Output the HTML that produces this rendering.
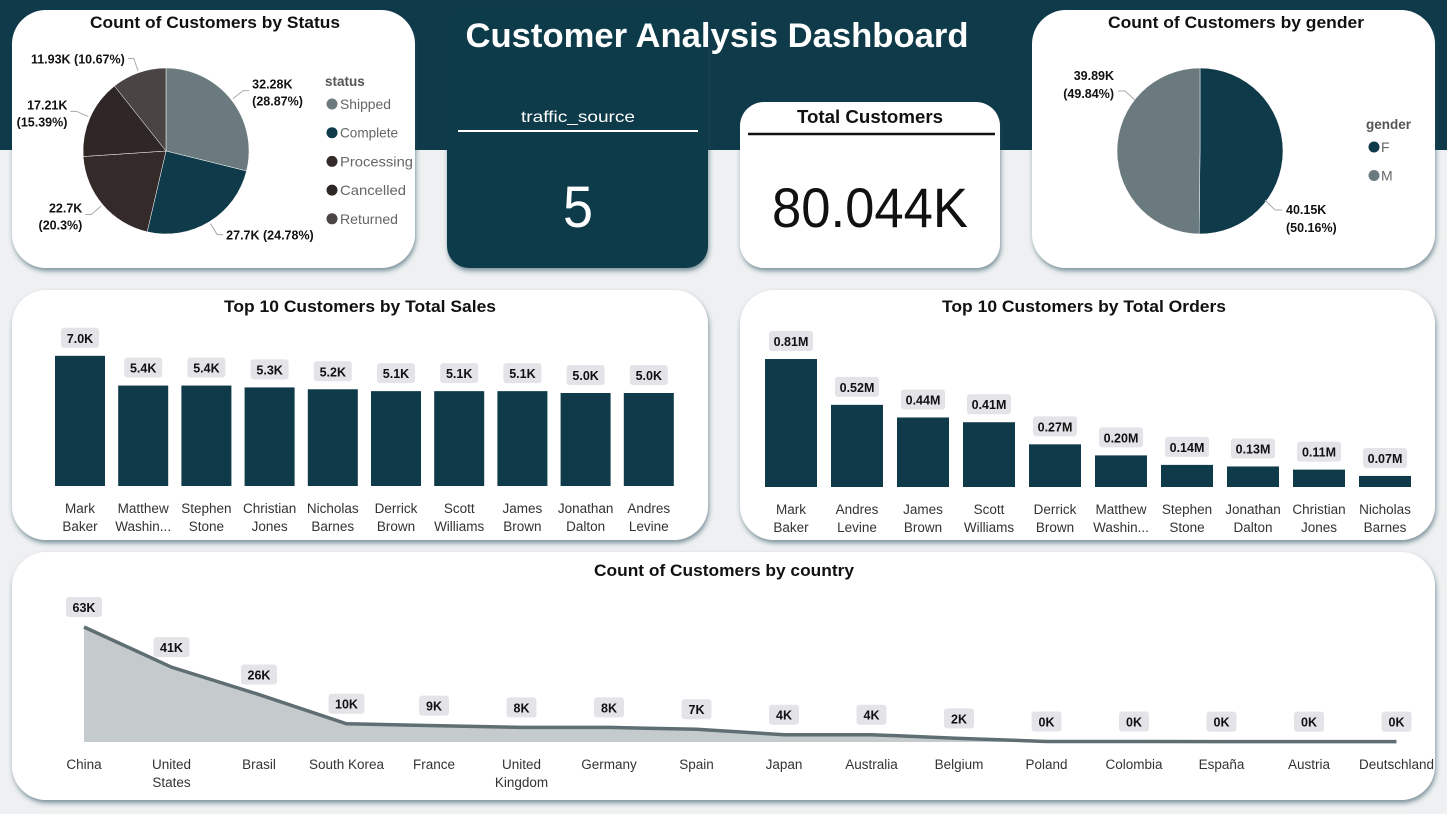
<!DOCTYPE html>
<html><head><meta charset="utf-8">
<style>
body{margin:0;width:1447px;height:809px;overflow:hidden;background:#eef0f1;font-family:"Liberation Sans",sans-serif;}
svg text{font-family:"Liberation Sans",sans-serif;}
</style></head>
<body>
<svg id="dash" width="1447" height="809" xmlns="http://www.w3.org/2000/svg">
<defs>
<filter id="sh" x="-5%" y="-5%" width="110%" height="115%"><feDropShadow dx="1" dy="3" stdDeviation="2.5" flood-color="#1a4a5a" flood-opacity="0.55"/></filter>
</defs>
<rect x="0" y="0" width="1447" height="809" fill="#eef0f1"/>
<rect x="0" y="0" width="1447" height="150" fill="#0f3a4a"/>

<rect x="12" y="10" width="403" height="258" rx="34" fill="#fff" filter="url(#sh)"/>
<rect x="447" y="10" width="261" height="258" rx="22" fill="#0f3a4a" filter="url(#sh)"/>
<rect x="740" y="102" width="260" height="166" rx="24" fill="#fff" filter="url(#sh)"/>
<rect x="1032" y="10" width="403" height="258" rx="34" fill="#fff" filter="url(#sh)"/>
<rect x="12" y="290" width="696" height="250" rx="34" fill="#fff" filter="url(#sh)"/>
<rect x="740" y="290" width="695" height="250" rx="34" fill="#fff" filter="url(#sh)"/>
<rect x="12" y="552" width="1423" height="248" rx="34" fill="#fff" filter="url(#sh)"/>

<text x="717" y="47" text-anchor="middle" font-size="34" font-weight="bold" fill="#fff" textLength="503" lengthAdjust="spacingAndGlyphs">Customer Analysis Dashboard</text>

<text x="215" y="28" text-anchor="middle" font-size="17" font-weight="bold" fill="#111" textLength="250" lengthAdjust="spacingAndGlyphs">Count of Customers by Status</text>
<text x="1236" y="28" text-anchor="middle" font-size="17" font-weight="bold" fill="#111" textLength="256" lengthAdjust="spacingAndGlyphs">Count of Customers by gender</text>

<text x="578" y="122" text-anchor="middle" font-size="16" fill="#fff" textLength="114" lengthAdjust="spacingAndGlyphs">traffic_source</text>
<line x1="458" y1="131" x2="698" y2="131" stroke="#fff" stroke-width="2"/>
<text x="578" y="227" text-anchor="middle" font-size="58" fill="#fff" textLength="30" lengthAdjust="spacingAndGlyphs">5</text>

<text x="870" y="123" text-anchor="middle" font-size="18" font-weight="bold" fill="#111" textLength="146" lengthAdjust="spacingAndGlyphs">Total Customers</text>
<line x1="748" y1="134" x2="995" y2="134" stroke="#111" stroke-width="2.5"/>
<text x="870" y="227" text-anchor="middle" font-size="56" fill="#111" textLength="196" lengthAdjust="spacingAndGlyphs">80.044K</text>

<text x="360" y="312" text-anchor="middle" font-size="17" font-weight="bold" fill="#111" textLength="272" lengthAdjust="spacingAndGlyphs">Top 10 Customers by Total Sales</text>
<text x="1084" y="312" text-anchor="middle" font-size="17" font-weight="bold" fill="#111" textLength="284" lengthAdjust="spacingAndGlyphs">Top 10 Customers by Total Orders</text>
<text x="724" y="576" text-anchor="middle" font-size="17" font-weight="bold" fill="#111" textLength="260" lengthAdjust="spacingAndGlyphs">Count of Customers by country</text>
<g id="g"></g>
</svg>
<script>
const statusCats=["Shipped","Complete","Processing","Cancelled","Returned"];
const statusVals=[32.28,27.7,22.7,17.21,11.93];
const statusLbls=["32.28K (28.87%)","27.7K (24.78%)","22.7K (20.3%)","17.21K (15.39%)","11.93K (10.67%)"];
const statusColors=["#6b7a7f","#0f3a4a","#352a2a","#2f2626","#4a4544"];
const genderCats=["F","M"];
const genderVals=[40.15,39.89];
const genderLbls=["40.15K (50.16%)","39.89K (49.84%)"];
const genderColors=["#0f3a4a","#6b7a7f"];
const salesNames=[["Mark","Baker"],["Matthew","Washin..."],["Stephen","Stone"],["Christian","Jones"],["Nicholas","Barnes"],["Derrick","Brown"],["Scott","Williams"],["James","Brown"],["Jonathan","Dalton"],["Andres","Levine"]];
const salesVals=[7.0,5.4,5.4,5.3,5.2,5.1,5.1,5.1,5.0,5.0];
const ordersNames=[["Mark","Baker"],["Andres","Levine"],["James","Brown"],["Scott","Williams"],["Derrick","Brown"],["Matthew","Washin..."],["Stephen","Stone"],["Jonathan","Dalton"],["Christian","Jones"],["Nicholas","Barnes"]];
const ordersVals=[0.81,0.52,0.44,0.41,0.27,0.20,0.14,0.13,0.11,0.07];
const countryNames=[["China"],["United","States"],["Brasil"],["South Korea"],["France"],["United","Kingdom"],["Germany"],["Spain"],["Japan"],["Australia"],["Belgium"],["Poland"],["Colombia"],["España"],["Austria"],["Deutschland"]];
const countryVals=[63,41,26,10,9,8,8,7,4,4,2,0.3,0.3,0.2,0.2,0.2];

const NS="http://www.w3.org/2000/svg",G=document.getElementById("g");
function mk(t,a,p){const e=document.createElementNS(NS,t);for(const k in a)e.setAttribute(k,a[k]);(p||G).appendChild(e);return e;}
function txt(x,y,s,o){const e=mk("text",Object.assign({x:x,y:y,"font-size":13,fill:"#222","text-anchor":"middle"},o||{}));e.textContent=s;return e;}

function pie(cx,cy,r,vals,cols,cats,nm){
  const tot=vals.reduce((a,b)=>a+b,0);let a0=-Math.PI/2;const mids=[];
  vals.forEach((v,i)=>{const a1=a0+v/tot*2*Math.PI;
    const p=mk("path",{d:`M${cx},${cy}L${cx+r*Math.cos(a0)},${cy+r*Math.sin(a0)}A${r},${r} 0 ${a1-a0>Math.PI?1:0} 1 ${cx+r*Math.cos(a1)},${cy+r*Math.sin(a1)}Z`,fill:cols[i],stroke:"#fff","stroke-width":0.5});
    
    
    mids.push((a0+a1)/2);a0=a1;});
  return mids;
}
const LB={"text-anchor":"start","font-weight":"bold","font-size":12.5,fill:"#111"};
const sm=pie(166,151,83,statusVals,statusColors,statusCats,"status");
sm.forEach((a,i)=>{const x1=166+85*Math.cos(a),y1=151+85*Math.sin(a),x2=166+98*Math.cos(a),y2=151+98*Math.sin(a);
  const right=Math.cos(a)>0;const x3=x2+(right?6:-6);
  mk("polyline",{points:`${x1},${y1} ${x2},${y2} ${x3},${y2}`,fill:"none",stroke:"#aaa","stroke-width":1});
  const parts=statusLbls[i].split(" ");const o=Object.assign({},LB,{"text-anchor":right?"start":"end"});const tx=x3+(right?3:-3);
  if(i===1||i===4){const t=txt(tx,y2+5,statusLbls[i],o);}
  else{const t=txt(tx,y2-2,parts[0],o);
    txt(tx,y2+15,parts[1],o);}
});
txt(325,86,"status",{"text-anchor":"start","font-weight":"bold","font-size":13.5,fill:"#555"});
statusCats.forEach((c,i)=>{const y=104+i*28.7;mk("circle",{cx:332,cy:y,r:5.5,fill:statusColors[i]});
  const t=txt(340,y+5,c,{"text-anchor":"start","font-size":14,fill:"#666",textLength:(c.length*7.3).toFixed(0),lengthAdjust:"spacingAndGlyphs"});});
pie(1200,151,83,genderVals,genderColors,genderCats,"gender");
mk("polyline",{points:"1265,200 1275,210 1282,210",fill:"none",stroke:"#aaa"});
mk("polyline",{points:"1135,100 1125,91 1118,91",fill:"none",stroke:"#aaa"});
let gp=genderLbls[0].split(" ");txt(1286,214,gp[0],LB);txt(1286,232,gp[1],LB);
const LE=Object.assign({},LB,{"text-anchor":"end"});
gp=genderLbls[1].split(" ");txt(1114,80,gp[0],LE);txt(1114,98,gp[1],LE);
txt(1366,129,"gender",{"text-anchor":"start","font-weight":"bold","font-size":13.5,fill:"#555"});
genderCats.forEach((c,i)=>{const y=147+i*28.5;mk("circle",{cx:1374,cy:y,r:5.5,fill:genderColors[i]});
  const t=txt(1381,y+5,c,{"text-anchor":"start","font-size":14,fill:"#666"});});

function pill(x,y,s,w){mk("rect",{x:x-w/2,y:y-13,width:w,height:20,rx:3,fill:"#e4e4e8"});txt(x,y+2,s,{"font-weight":"bold","font-size":12.5,fill:"#111"});}
function bars(x0,step,bw,base,scale,vals,names,fmt,nm){
  vals.forEach((v,i)=>{const cx=x0+i*step,h=v*scale;
    const r=mk("rect",{x:cx-bw/2,y:base-h,width:bw,height:h,fill:"#0f3a4a"});
    
    
    pill(cx,base-h-15,fmt(v),fmt(v).length>4?44:38);
    names[i].forEach((n,j)=>txt(cx,base+27+j*18,n,{"font-size":13.5,fill:"#333"}));
  });
}
bars(80,63.2,50,486,18.6,salesVals,salesNames,v=>v.toFixed(1)+"K","sales");
bars(791,66,52,487,158,ordersVals,ordersNames,v=>v.toFixed(2)+"M","orders");

const cx0=84,cstep=87.5,cbase=742,cs=115/63;
const X=i=>cx0+i*cstep,Y=v=>cbase-v*cs;
let d=`M${X(0)},${cbase}`;countryVals.forEach((v,i)=>d+=`L${X(i)},${Y(v)}`);d+=`L${X(countryVals.length-1)},${cbase}Z`;
const ar=mk("path",{d:d,fill:"#c5cbcd"});
const ln=mk("polyline",{points:countryVals.map((v,i)=>X(i)+","+Y(v)).join(" "),fill:"none",stroke:"#5f6e72","stroke-width":3.5});

countryVals.forEach((v,i)=>{const s=Math.round(v)+"K";pill(X(i),Y(v)-17,s,s.length>2?36:30);
  countryNames[i].forEach((n,j)=>txt(X(i),769+j*18,n,{"font-size":13.5,fill:"#333"}));});
</script>
</body></html>
